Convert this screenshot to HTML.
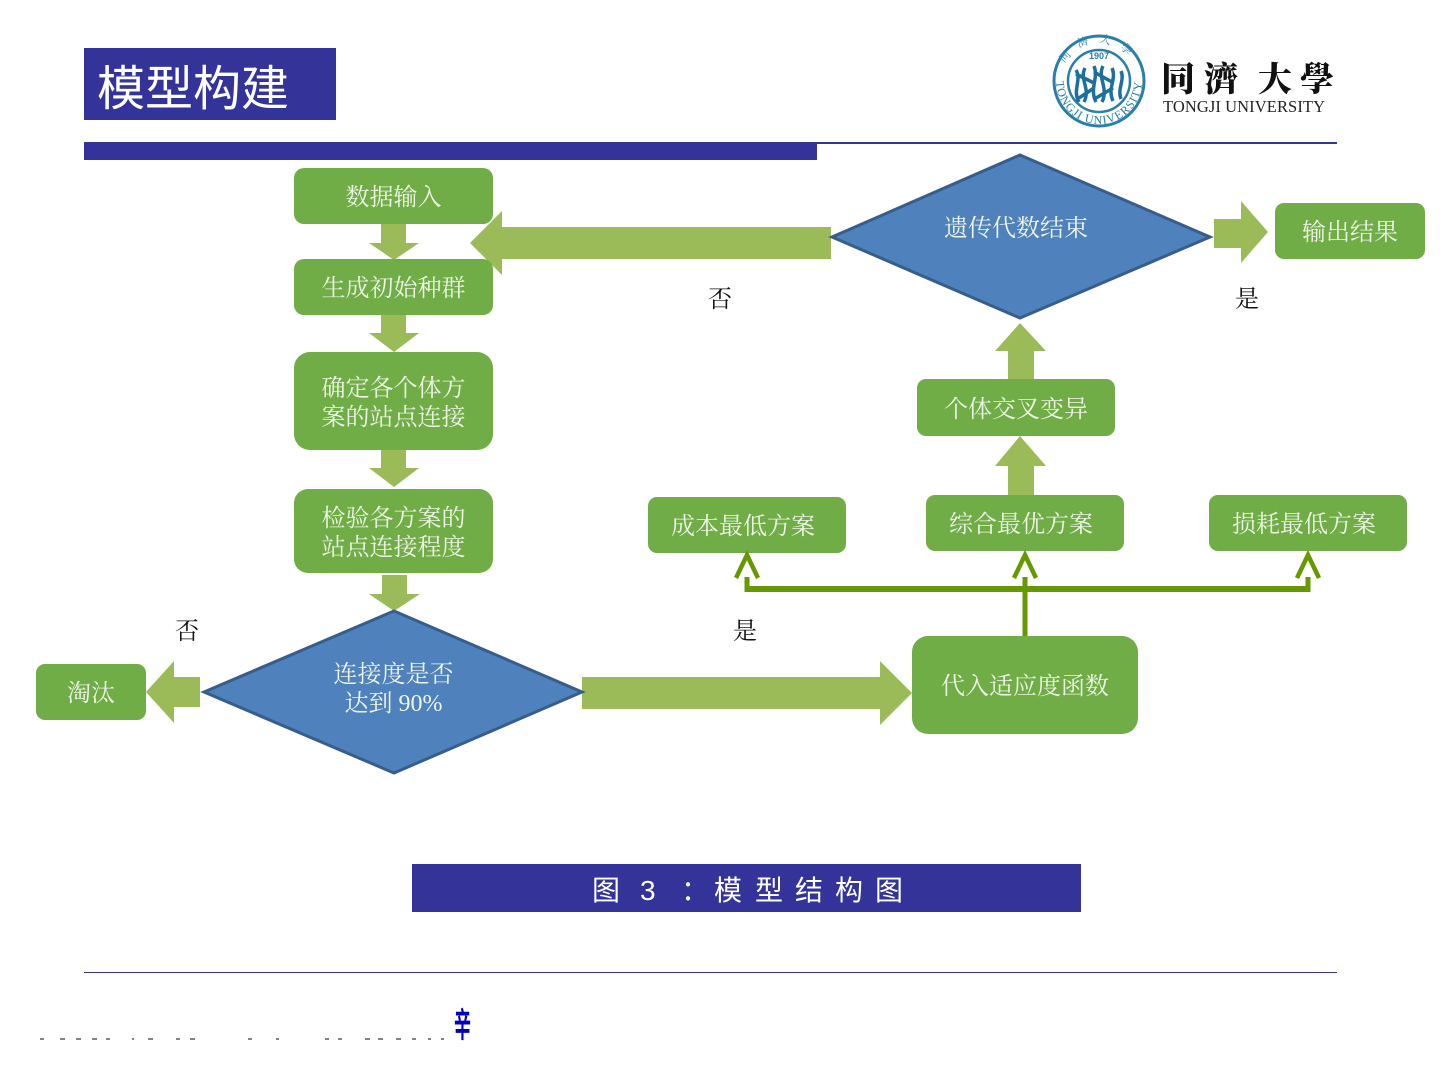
<!DOCTYPE html>
<html lang="zh"><head><meta charset="utf-8"><title>模型构建</title>
<style>
html,body{margin:0;padding:0;background:#fff;width:1440px;height:1080px;overflow:hidden}
svg{display:block}
.l{font-family:"Liberation Serif","Noto Serif CJK SC",serif;font-size:24px;fill:#eef5e6;text-anchor:middle}
.k{font-family:"Liberation Serif","Noto Serif CJK SC",serif;font-size:24px;fill:#111;text-anchor:middle}
</style></head><body>
<svg width="1440" height="1080" viewBox="0 0 1440 1080" xmlns="http://www.w3.org/2000/svg">
<defs>
<path id="c1" d="M1061 81a38 38 0 0 1 76 0"/>
<path id="c2" d="M1056 81a43 43 0 0 0 86 0"/>
</defs>
<!-- header -->
<rect x="84" y="48" width="252" height="72" fill="#333399"/>
<text x="97" y="105" font-family="Liberation Sans,Noto Sans CJK SC,sans-serif" font-size="48" fill="#fff">模型构建</text>
<rect x="84" y="142" width="1253" height="2" fill="#333399"/>
<rect x="84" y="143" width="733" height="17" fill="#333399"/>
<rect x="84" y="972" width="1253" height="1" fill="#333399"/>
<!-- logo -->
<g fill="none" stroke="#2a7fa8">
<circle cx="1099" cy="81" r="45" stroke-width="3"/>
<circle cx="1099" cy="81" r="31" stroke-width="2.5"/>
<path d="M1076 70c6 10-4 20 3 32M1085 68c-6 12 6 20-1 34M1094 66c5 12-5 22 2 36M1103 66c-6 12 6 22-1 36M1112 68c5 11-5 20 1 33M1121 71c4 9-4 18 0 28M1076 74l18 9M1094 72l18 10M1079 98l15-10M1096 98l17-10" stroke-width="3.5" stroke="#1f6f9e"/>
</g>
<text font-family="Liberation Serif,serif" font-size="12" fill="#2a7fa8" letter-spacing="1"><textPath href="#c2" startOffset="50%" text-anchor="middle">TONGJI UNIVERSITY</textPath></text>
<text font-family="Noto Serif CJK SC,serif" font-size="11" fill="#2a7fa8" letter-spacing="10"><textPath href="#c1" startOffset="50%" text-anchor="middle">同濟大學</textPath></text>
<text x="1099" y="59" font-family="Liberation Sans,sans-serif" font-size="9" font-weight="700" fill="#2a7fa8" text-anchor="middle">1907</text>
<text x="1161 1204 1258 1300" y="91" font-family="Noto Serif CJK TC,serif" font-size="34" font-weight="900" fill="#111">同濟大學</text>
<text x="1163" y="112" font-family="Liberation Serif,serif" font-size="16.500" fill="#222" textLength="162">TONGJI UNIVERSITY</text>
<!-- thick arrows -->
<g fill="#9bbb59">
<path d="M831 227H502V211L470 243L502 275V259H831Z"/>
<path d="M381 224H406V243H419L394 260L369 243H381Z"/>
<path d="M381 315H406V333H419L394 352L369 333H381Z"/>
<path d="M381 450H406V468H419L394 487L369 468H381Z"/>
<path d="M382 575H407V594H420L394 611L369 594H382Z"/>
<path d="M200 677H174V661L146 692L174 723V707H200Z"/>
<path d="M582 677H880V661L912 693L880 725V709H582Z"/>
<path d="M1008 495H1034V466H1046L1020 436L995 466H1008Z"/>
<path d="M1008 379H1034V351H1046L1020 323L995 351H1008Z"/>
<path d="M1214 219H1241V201L1268 232L1241 263V248H1214Z"/>
</g>
<!-- boxes -->
<g fill="#70ad47">
<rect x="294" y="168" width="199" height="56" rx="10"/>
<rect x="294" y="259" width="199" height="56" rx="10"/>
<rect x="294" y="352" width="199" height="98" rx="16"/>
<rect x="294" y="489" width="199" height="84" rx="14"/>
<rect x="36" y="664" width="110" height="56" rx="9"/>
<rect x="912" y="636" width="226" height="98" rx="16"/>
<rect x="648" y="497" width="198" height="56" rx="9"/>
<rect x="926" y="495" width="198" height="56" rx="9"/>
<rect x="1209" y="495" width="198" height="56" rx="9"/>
<rect x="917" y="379" width="198" height="57" rx="9"/>
<rect x="1275" y="203" width="150" height="56" rx="9"/>
</g>
<!-- diamonds -->
<g fill="#4f81bd" stroke="#385d8a" stroke-width="3" stroke-linejoin="miter">
<path d="M204 692L394 611L582 692L394 773Z"/>
<path d="M832 237L1020 155L1210 237L1020 318Z"/>
</g>
<!-- thin connectors -->
<g stroke="#669900" fill="none">
<path d="M747 589H1308" stroke-width="6"/>
<path d="M747 577V592M1025 577V636M1308 577V592" stroke-width="5"/>
<path d="M736 578L747 555L758 578M1014 578L1025 555L1036 578M1297 578L1308 555L1319 578" stroke-width="4.500"/>
</g>
<!-- labels -->
<text class="l" x="393.500" y="205">数据输入</text>
<text class="l" x="393.500" y="296">生成初始种群</text>
<text class="l" x="393.500" y="396">确定各个体方</text>
<text class="l" x="393.500" y="425">案的站点连接</text>
<text class="l" x="393.500" y="526">检验各方案的</text>
<text class="l" x="393.500" y="555">站点连接程度</text>
<text class="l" x="393.500" y="682">连接度是否</text>
<text class="l" x="393.500" y="711">达到 90%</text>
<text class="l" x="91" y="701">淘汰</text>
<text class="l" x="1025" y="694">代入适应度函数</text>
<text class="l" x="743" y="534">成本最低方案</text>
<text class="l" x="1021" y="532">综合最优方案</text>
<text class="l" x="1304" y="532">损耗最低方案</text>
<text class="l" x="1016" y="417">个体交叉变异</text>
<text class="l" x="1016" y="236">遗传代数结束</text>
<text class="l" x="1350" y="240">输出结果</text>
<text class="k" x="187" y="639">否</text>
<text class="k" x="745" y="639">是</text>
<text class="k" x="720" y="307">否</text>
<text class="k" x="1247" y="307">是</text>
<!-- caption -->
<rect x="412" y="864" width="669" height="48" fill="#333399"/>
<text x="592 640 681 714 755 795 835 875" y="900" font-family="Liberation Sans,Noto Sans CJK SC,sans-serif" font-size="28" fill="#fff">图3：模型结构图</text>
<!-- clipped footer remnants -->
<text transform="translate(454 1037) scale(1 2)" font-family="Noto Sans CJK SC,sans-serif" font-size="17" font-weight="700" fill="#0000c0">辛</text>
<g fill="#333" opacity=".6">
<rect x="40" y="1038" width="4" height="2"/><rect x="60" y="1038" width="5" height="2"/><rect x="76" y="1038" width="5" height="2"/><rect x="92" y="1038" width="5" height="2"/><rect x="106" y="1038" width="4" height="2"/><rect x="132" y="1038" width="2" height="2"/><rect x="148" y="1038" width="5" height="2"/><rect x="176" y="1038" width="4" height="2"/><rect x="190" y="1038" width="5" height="2"/><rect x="248" y="1038" width="4" height="2"/><rect x="276" y="1038" width="3" height="2"/><rect x="325" y="1038" width="4" height="2"/><rect x="338" y="1038" width="4" height="2"/><rect x="365" y="1038" width="5" height="2"/><rect x="378" y="1038" width="5" height="2"/><rect x="396" y="1038" width="5" height="2"/><rect x="412" y="1038" width="4" height="2"/><rect x="428" y="1038" width="3" height="2"/><rect x="441" y="1038" width="3" height="2"/>
</g>
</svg>
</body></html>
